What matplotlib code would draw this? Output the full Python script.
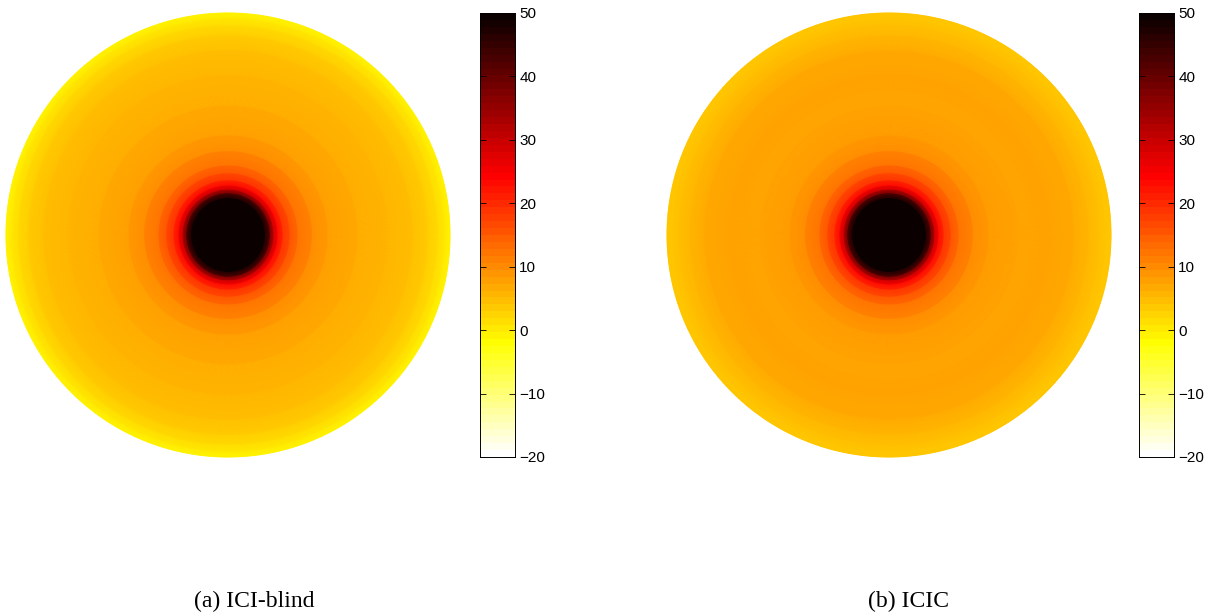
import numpy as np
import matplotlib
matplotlib.use("Agg")
import matplotlib.pyplot as plt
from matplotlib.colors import ListedColormap

# radial profile (fraction of cell radius) and SINR values in dB
radius_frac = [0.0, 0.10, 0.167, 0.19, 0.207, 0.225, 0.248, 0.28, 0.315,
               0.38, 0.45, 0.585, 0.72, 0.833, 0.90, 0.946, 0.977, 1.0]
sinr_ici_blind = [50, 50, 50, 40, 30, 24, 19.5, 16, 13,
                  10, 8, 6.5, 5.5, 4.5, 3, 1.5, 0, -1]
sinr_icic = [50, 50, 50, 40, 30, 24, 19.5, 16, 13,
             10, 8.3, 7.2, 7.6, 6.6, 5.2, 4.5, 4.0, 3.6]
captions = ["(a) ICI-blind", "(b) ICIC"]
cbar_ticks = [-20, -10, 0, 10, 20, 30, 40, 50]
vmin, vmax = -20, 50

cmap_bar = ListedColormap(plt.get_cmap("hot_r")(np.linspace(0, 1, 64)))
cmap_disc = plt.get_cmap("hot_r")

W, H = 1214, 616
fig = plt.figure(figsize=(W / 100, H / 100), dpi=100)

def px_axes(x0, y0, x1, y1):
    return fig.add_axes([x0 / W, 1 - y1 / H, (x1 - x0) / W, (y1 - y0) / H])

theta = np.linspace(0, 2 * np.pi, 721)
r = np.array(radius_frac)
T, Rg = np.meshgrid(theta, r)
X = Rg * np.cos(T)
Y = Rg * np.sin(T)

layout = [
    dict(disc=(6, 13, 450, 457), cbar=(480, 13, 515, 457), cap_x=254),
    dict(disc=(667, 13, 1111, 457), cbar=(1139, 13, 1174, 457), cap_x=908),
]

for vals, cap, lay in zip([sinr_ici_blind, sinr_icic], captions, layout):
    ax = px_axes(*lay["disc"])
    Z = np.repeat(np.array(vals, float)[:, None], len(theta), axis=1)
    mesh = ax.pcolormesh(X, Y, Z, shading="gouraud", cmap=cmap_disc,
                         vmin=vmin, vmax=vmax)
    mesh.set_clip_on(False)
    ax.set_xlim(-1, 1)
    ax.set_ylim(-1, 1)
    ax.set_aspect("equal")
    ax.axis("off")

    cax = px_axes(*lay["cbar"])
    grad = np.linspace(vmin, vmax, 256)[:, None]
    cax.imshow(grad, aspect="auto", cmap=cmap_bar, origin="lower",
               extent=(0, 1, vmin, vmax), vmin=vmin, vmax=vmax,
               interpolation="nearest")
    cax.set_xlim(0, 1)
    cax.set_ylim(vmin, vmax)
    cax.set_xticks([])
    cax.yaxis.tick_right()
    cax.set_yticks(cbar_ticks)
    cax.set_yticklabels([f"{t}".replace("-", "\u2212") for t in cbar_ticks],
                        fontsize=11, family="Liberation Sans")
    cax.tick_params(axis="y", direction="in", length=4, width=0.6,
                    left=True, right=True, pad=3)
    for s in cax.spines.values():
        s.set_linewidth(0.7)

    fig.text(lay["cap_x"] / W, 1 - 601 / H, cap, ha="center", va="center",
             fontsize=17, family="Liberation Serif")

fig.savefig("out.png", dpi=100)
